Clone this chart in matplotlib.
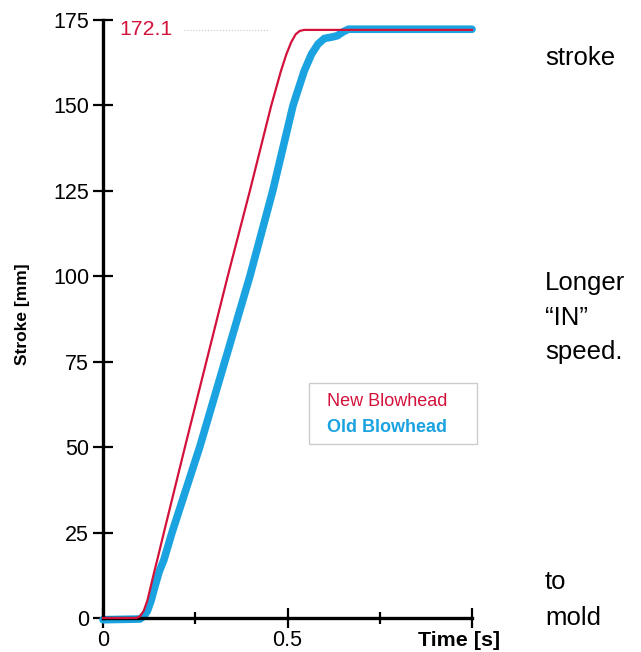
import numpy as np
import matplotlib
matplotlib.use("Agg")
import matplotlib.pyplot as plt
from matplotlib.ticker import FixedLocator
from matplotlib.patches import Rectangle

plt.rcParams['font.family'] = ['Liberation Sans', 'DejaVu Sans']

# data
new_t = [0, 0.09, 0.1, 0.11, 0.12, 0.13, 0.14, 0.147, 0.165, 0.222, 0.28, 0.338,
         0.398, 0.456, 0.482, 0.497, 0.51, 0.522, 0.533, 0.545, 1.0]
new_y = [0, 0, 0.5, 2, 5, 9.5, 14, 17, 25, 50, 75, 100,
         125, 150, 160, 165, 168.5, 170.8, 171.8, 172.1, 172.1]

old_t = [0, 0.1, 0.11, 0.12, 0.13, 0.14, 0.152, 0.165, 0.187, 0.262, 0.33, 0.398,
         0.46, 0.515, 0.545, 0.565, 0.583, 0.6, 0.62, 0.635, 0.65, 0.665, 1.0]
old_y = [-0.5, -0.3, 0.5, 2, 5, 9, 13.5, 17, 25, 50, 75, 100,
         125, 150, 160, 165, 168, 169.6, 170, 170.4, 171.5, 172.3, 172.3]

max_stroke = 172.1
y_ticks = [0, 25, 50, 75, 100, 125, 150, 175]
x_ticks = [0, 0.5, 1.0]
x_ticklabels = ["0", "0.5", ""]
x_minor = [0.25, 0.75]
legend_labels = ["New Blowhead", "Old Blowhead"]
side_notes = [("stroke", 58), ("Longer", 283), ("\u201cIN\u201d", 318),
              ("speed.", 352), ("to", 582), ("mold", 618)]

red = "#d3123c"
blue = "#1aa3e0"

W, H = 641, 652
fig = plt.figure(figsize=(W / 100, H / 100), dpi=100)
ax = fig.add_axes([103 / W, 34 / H, 369 / W, 598 / H])

ax.plot(old_t, old_y, color=blue, lw=5.5, solid_capstyle='round',
        solid_joinstyle='round', clip_on=False, zorder=2)
ax.plot(new_t, new_y, color=red, lw=1.6, solid_joinstyle='round', clip_on=False, zorder=3)

ax.set_xlim(0, 1.0)
ax.set_ylim(0, 175)

for s in ['top', 'right']:
    ax.spines[s].set_visible(False)
for s in ['left', 'bottom']:
    ax.spines[s].set_linewidth(2.4)

ax.set_yticks(y_ticks)
ax.set_xticks(x_ticks)
ax.set_xticklabels(x_ticklabels)
ax.xaxis.set_minor_locator(FixedLocator(x_minor))
ax.tick_params(axis='both', which='major', direction='inout', length=14, width=1.6,
               labelsize=15.5, color='black')
ax.tick_params(axis='y', pad=3)
ax.tick_params(axis='x', pad=2)
ax.tick_params(axis='x', which='minor', direction='inout', length=8, width=1.6)

# max stroke annotation
ax.text(0.045, max_stroke, f"{max_stroke}", color=red, fontsize=15.3, va='center', ha='left')
ax.plot([0.22, 0.45], [max_stroke, max_stroke], color='#c8c8c8', lw=0.8, ls=':')

# legend box, coloured text only
fig.patches.append(Rectangle((309 / W, 1 - 444 / H), 168 / W, 61 / H,
                             transform=fig.transFigure, facecolor='white',
                             edgecolor='#cccccc', lw=1.0, zorder=5))
fig.text(327 / W, 1 - 402 / H, legend_labels[0], color=red, fontsize=13,
         va='center', ha='left', zorder=6)
fig.text(327 / W, 1 - 428 / H, legend_labels[1], color=blue, fontsize=13,
         fontweight='bold', va='center', ha='left', zorder=6)

fig.text(500 / W, 1 - 641 / H, "Time [s]", fontsize=15.4, fontweight='bold',
         ha='right', va='center')
fig.text(23 / W, 1 - 314 / H, "Stroke [mm]", fontsize=12.5, fontweight='bold',
         rotation=90, ha='center', va='center')

for txt, yp in side_notes:
    fig.text(545 / W, 1 - yp / H, txt, fontsize=18.5, ha='left', va='center')

fig.savefig("out.png", dpi=100)
